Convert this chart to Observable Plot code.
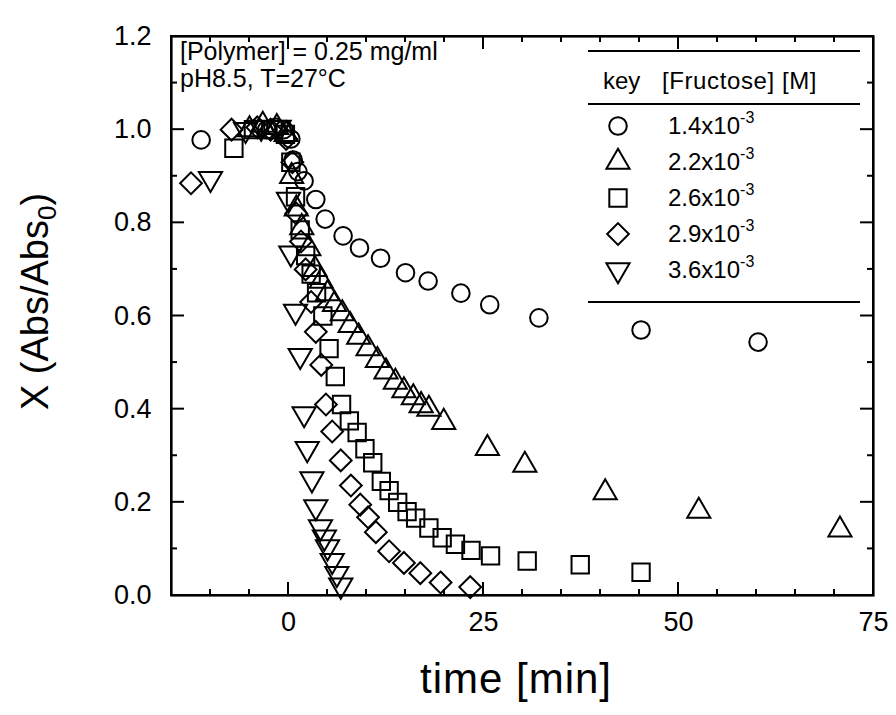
<!DOCTYPE html>
<html><head><meta charset="utf-8">
<script src="https://cdn.jsdelivr.net/npm/d3@7"></script>
<script src="https://cdn.jsdelivr.net/npm/@observablehq/plot@0.6"></script>
<style>
body{margin:0;background:#fff;}
#chart{position:relative;width:896px;height:715px;}
#chart > svg.overlay{position:absolute;left:0;top:0;pointer-events:none;}
#frameBox{position:absolute;box-sizing:border-box;border:2px solid #000;pointer-events:none;}
</style></head><body><div id="chart"></div>
<script>
// ---- data ----
const seriesLabels = ["1.4x10", "2.2x10", "2.6x10", "2.9x10", "3.6x10"];
const seriesExp = "-3";

const c14_t = [-11.2, -2.8, -1.6, -0.6, 0.3, 0.6, 1.2, 2.0, 3.5, 4.7, 7.0, 9.1, 11.8, 15.0, 17.9, 22.1, 25.8, 32.1, 45.2, 60.2];
const c14_x = [0.978, 1.0, 1.005, 1.0, 0.98, 0.935, 0.91, 0.89, 0.85, 0.808, 0.772, 0.746, 0.724, 0.693, 0.675, 0.649, 0.624, 0.596, 0.57, 0.544];

const c22_t = [-5.0, -3.3, -1.5, -0.3, 0.4, 1.0, 1.7, 2.6, 3.4, 4.2, 5.0, 5.9, 6.9, 7.9, 9.0, 10.2, 11.4, 12.5, 13.7, 14.8, 16.0, 17.0, 18.0, 19.9, 25.5, 30.3, 40.6, 52.6, 70.7];
const c22_x = [1.0, 1.01, 1.005, 0.99, 0.9, 0.83, 0.79, 0.745, 0.7, 0.675, 0.648, 0.625, 0.605, 0.58, 0.555, 0.53, 0.505, 0.48, 0.458, 0.44, 0.425, 0.408, 0.4, 0.372, 0.316, 0.28, 0.221, 0.181, 0.141];

const c26_t = [-7.0, -4.5, -2.0, -0.4, 0.3, 0.9, 1.5, 2.2, 2.9, 3.6, 4.4, 5.2, 6.0, 6.8, 7.8, 8.8, 9.8, 10.8, 11.9, 12.9, 14.0, 15.2, 16.3, 18.0, 19.7, 21.4, 23.4, 25.9, 30.6, 37.4, 45.2];
const c26_x = [0.96, 1.0, 1.0, 0.99, 0.93, 0.856, 0.785, 0.73, 0.69, 0.65, 0.6, 0.53, 0.47, 0.41, 0.375, 0.35, 0.315, 0.285, 0.245, 0.225, 0.2, 0.18, 0.166, 0.145, 0.124, 0.11, 0.097, 0.085, 0.074, 0.066, 0.05];

const c29_t = [-12.5, -7.3, -4.0, -2.3, -0.3, 0.5, 1.0, 1.6, 2.2, 2.9, 3.5, 4.2, 4.8, 5.6, 6.7, 8.0, 9.2, 10.2, 11.2, 12.9, 14.8, 16.9, 19.5, 23.3];
const c29_x = [0.885, 1.0, 1.005, 1.0, 0.98, 0.93, 0.82, 0.76, 0.70, 0.63, 0.566, 0.495, 0.41, 0.352, 0.29, 0.236, 0.195, 0.168, 0.136, 0.095, 0.07, 0.048, 0.028, 0.018];

const c36_t = [-10.0, -5.5, -3.5, -1.2, 0.0, 0.3, 0.9, 1.5, 2.0, 2.4, 3.0, 3.5, 4.1, 4.6, 5.0, 5.6, 6.2, 6.7];
const c36_x = [0.895, 1.0, 1.005, 1.005, 0.85, 0.735, 0.61, 0.515, 0.39, 0.315, 0.25, 0.19, 0.147, 0.125, 0.104, 0.075, 0.047, 0.022];

const xDomain = [-15, 75];
const yDomain = [0, 1.2];
const xTicksMajor = [0, 25, 50, 75];
const xTicksMinor = [-15, -10, -5, 5, 10, 15, 20, 30, 35, 40, 45, 55, 60, 65, 70];
const yTicksMajor = [0, 0.2, 0.4, 0.6, 0.8, 1.0, 1.2];
const yTicksMinor = [0.1, 0.3, 0.5, 0.7, 0.9, 1.1];

const annotationLines = ["[Polymer] = 0.25 mg/ml", "pH8.5, T=27\u00B0C"];
const legendHeader = ["key", "[Fructose] [M]"];
const xTitle = "time [min]";

// ---- layout ----
const W = 896, H = 715;
const mL = 171, mR = 23, mT = 36, mB = 120;
const fw = W - mL - mR, fh = H - mT - mB;
const FONT = "'Liberation Sans', Arial, Helvetica, sans-serif";

const pts = (t, x) => t.map((d, i) => ({t: d, x: x[i]}));

const downTriangle = {
  draw(context, size) {
    const y = -Math.sqrt(size / (3 * Math.sqrt(3)));
    context.moveTo(0, -y * 2);
    context.lineTo(-Math.sqrt(3) * y, y);
    context.lineTo(Math.sqrt(3) * y, y);
    context.closePath();
  }
};
const symbols = [
  {sym: "circle", d3sym: d3.symbolCircle, r: 8.8},
  {sym: "triangle", d3sym: d3.symbolTriangle, r: 8.6},
  {sym: "square", d3sym: d3.symbolSquare, r: 9.8},
  {sym: "diamond2", d3sym: d3.symbolDiamond2, r: 9.8},
  {sym: downTriangle, d3sym: downTriangle, r: 8.6}
];
const series = [pts(c14_t, c14_x), pts(c22_t, c22_x), pts(c26_t, c26_x), pts(c29_t, c29_x), pts(c36_t, c36_x)];

const plot = Plot.plot({
  width: W, height: H,
  marginLeft: mL, marginRight: mR, marginTop: mT, marginBottom: mB,
  style: {fontFamily: FONT, fontSize: "26px", color: "black", background: "white"},
  x: {domain: xDomain, label: null},
  y: {domain: yDomain, label: null},
  marks: [
    Plot.frame({stroke: "black", strokeWidth: 2.2}),
    Plot.axisX(xTicksMajor, {tickSize: 0, tickPadding: 16, fontSize: 27, label: null}),
    Plot.axisY(yTicksMajor, {tickSize: 0, tickPadding: 20, fontSize: 27, label: null, tickFormat: d3.format(".1f")}),
    ...series.map((data, i) => Plot.dot(data, {
      x: "t", y: "x", symbol: symbols[i].sym, r: symbols[i].r,
      stroke: "black", strokeWidth: 2, fill: "none"
    }))
  ]
});
const chart = document.getElementById("chart");
chart.appendChild(plot);

// ---- frame and inward ticks in a separate overlay layer, positioned through Plot's scales ----
const sx = plot.scale("x"), sy = plot.scale("y");
const X = v => sx.apply(v), Y = v => sy.apply(v);
const x0 = X(xDomain[0]), x1 = X(xDomain[1]), y0 = Y(yDomain[0]), y1 = Y(yDomain[1]);

const box = document.createElement("div");
box.id = "frameBox";
Object.assign(box.style, {left: (x0 - 1) + "px", top: (y1 - 1) + "px", width: (x1 - x0 + 2) + "px", height: (y0 - y1 + 2) + "px"});
chart.appendChild(box);

const ov = d3.select(chart).append("svg").attr("class", "overlay")
  .attr("width", W).attr("height", H).attr("viewBox", `0 0 ${W} ${H}`);
const addLine = (a, b, c, d, w) => ov.append("line")
  .attr("x1", a).attr("y1", b).attr("x2", c).attr("y2", d)
  .attr("stroke", "#000").attr("stroke-width", w);
xTicksMajor.forEach(v => { addLine(X(v), y0, X(v), y0 - 13, 2); addLine(X(v), y1, X(v), y1 + 13, 2); });
xTicksMinor.forEach(v => { addLine(X(v), y0, X(v), y0 - 6, 2); addLine(X(v), y1, X(v), y1 + 6, 2); });
yTicksMajor.forEach(v => { addLine(x0, Y(v), x0 + 13, Y(v), 2); addLine(x1, Y(v), x1 - 13, Y(v), 2); });
yTicksMinor.forEach(v => { addLine(x0, Y(v), x0 + 6, Y(v), 2); addLine(x1, Y(v), x1 - 6, Y(v), 2); });

// ---- texts & legend (layout in px) ----
const svg = d3.select(plot);
const g = svg.append("g").attr("font-family", FONT).attr("fill", "black").attr("text-anchor", "start");
annotationLines.forEach((s, i) => {
  g.append("text").attr("x", mL + 9).attr("y", mT + 24 + i * 27).attr("font-size", 25).text(s);
});
g.append("text").attr("x", mL + fw / 2 - 6).attr("y", H - 22).attr("text-anchor", "middle")
  .attr("font-size", 42).attr("letter-spacing", 1).text(xTitle);
const yt = g.append("text").attr("transform", `translate(48,${mT + fh / 2 - 14}) rotate(-90)`)
  .attr("text-anchor", "middle").attr("font-size", 38);
yt.append("tspan").text("X (Abs/Abs");
yt.append("tspan").attr("font-size", 26).attr("dy", 8).text("0");
yt.append("tspan").attr("dy", -8).text(")");

const lx1 = 588, lx2 = 860;
const lineY = [51, 104, 302];
lineY.forEach(y => g.append("line").attr("x1", lx1).attr("x2", lx2).attr("y1", y).attr("y2", y)
  .attr("stroke", "black").attr("stroke-width", 2));
g.append("text").attr("x", 603).attr("y", 89).attr("font-size", 24).text(legendHeader[0]);
g.append("text").attr("x", 662).attr("y", 89).attr("font-size", 24).attr("letter-spacing", 0.6).text(legendHeader[1]);
const rowY = [126, 162, 198, 234, 270];
seriesLabels.forEach((lab, i) => {
  const y = rowY[i];
  const size = Math.PI * symbols[i].r * symbols[i].r;
  g.append("path").attr("d", d3.symbol(symbols[i].d3sym, size)()).attr("transform", `translate(618,${y})`)
    .attr("fill", "none").attr("stroke", "black").attr("stroke-width", 2);
  const t = g.append("text").attr("x", 668).attr("y", y + 8).attr("font-size", 24);
  t.append("tspan").text(lab);
  t.append("tspan").attr("font-size", 16).attr("dy", -11).text(seriesExp);
});
</script></body></html>
